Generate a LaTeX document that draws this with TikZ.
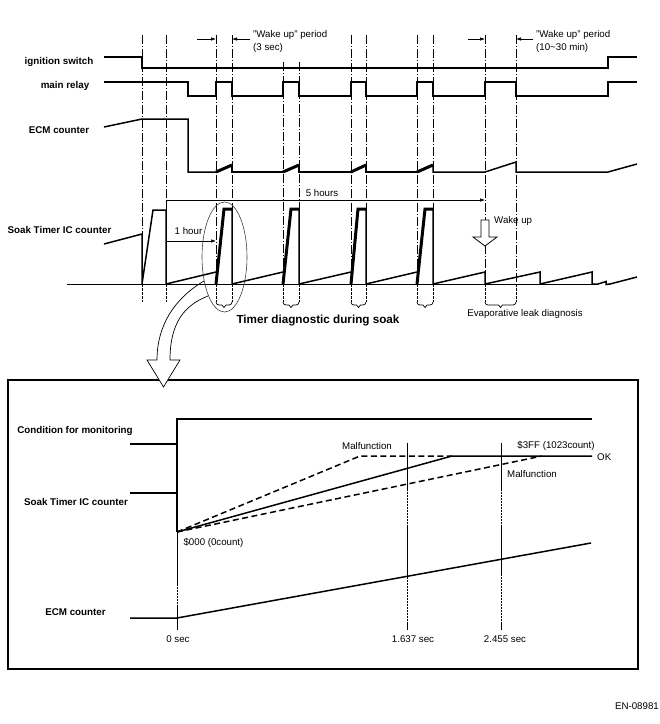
\documentclass[tikz,border=0pt]{standalone}
\usepackage{fontspec}
\setmainfont{Liberation Sans}
\usetikzlibrary{arrows.meta}
\begin{document}
\begin{tikzpicture}[x=1pt,y=-1pt,
  lbl/.style={font=\fontsize{9.8}{11}\selectfont\bfseries, inner sep=0pt},
  txt/.style={font=\fontsize{9.7}{11}\selectfont, inner sep=0pt},
  ign/.style={line width=2.2pt},
  wave/.style={line width=1.5pt},
  thk/.style={line width=3pt},
  dd/.style={line width=0.7pt, dash pattern=on 9pt off 2pt on 1pt off 2pt},
  dsh/.style={line width=0.7pt, dash pattern=on 2.5pt off 1.5pt},
  dsh2/.style={line width=1.5pt, dash pattern=on 6pt off 3.5pt},
  thinl/.style={line width=0.7pt},
  dotl/.style={line width=0.7pt, dash pattern=on 0.6pt off 0.9pt},
  arr/.style={line width=0.6pt, -{Latex[length=5pt,width=3.5pt]}},
  ]
\useasboundingbox[fill=white] (0,0) rectangle (660,724);

% ---------- lower box ----------
\draw[line width=1.1pt] (8,380) rectangle (638,669);

% ---------- curved hollow arrow ----------
\draw[line width=0.7pt, fill=white, line join=miter]
  (204,281) .. controls (175,298) and (157,325) .. (157,360)
  -- (147,360) -- (163.5,387) -- (180,360) -- (170,360)
  .. controls (170,322) and (185,305) .. (208,296);

% ---------- vertical dash-dot lines ----------
\foreach \x/\t in {142/35,166/35,216/35,232/35,283/62,299/62,351/35,366/35,417/35,433/35,485/35,516/35}{
  \draw[dd] (\x,\t) -- (\x,284);
  \draw[dsh] (\x,284) -- (\x,302);
}
% braces
\foreach \a/\b in {216/232,283/299,351/366,417/433,485/516}{
  \pgfmathsetmacro{\m}{(\a+\b)/2}
  \pgfmathsetmacro{\aa}{\a+3}
  \pgfmathsetmacro{\bb}{\b-3}
  \pgfmathsetmacro{\ml}{\m-2}
  \pgfmathsetmacro{\mr}{\m+2}
  \draw[thinl] (\a,302) to[out=-90,in=180] (\aa,305) -- (\ml,305) -- (\m,307.5) -- (\mr,305) -- (\bb,305) to[out=0,in=-90] (\b,302);
}

% ---------- ignition switch ----------
\node[lbl] (lign) at (59,62) {ignition switch};
\draw[ign] (104,57) -- (142,57) -- (142,68) -- (608,68) -- (608,57) -- (637,57);

% ---------- main relay ----------
\node[lbl] (lrel) at (65,86) {main relay};
\draw[wave] (104,82) -- (188,82) -- (188,96) -- (216,96) -- (216,82) -- (232,82) -- (232,96)
  -- (283,96) -- (283,82) -- (299,82) -- (299,96) -- (351,96) -- (351,82) -- (366,82) -- (366,96)
  -- (417,96) -- (417,82) -- (433,82) -- (433,96) -- (485,96) -- (485,82) -- (516,82) -- (516,96)
  -- (608,96) -- (608,82) -- (637,82);

% ---------- ECM counter ----------
\node[lbl] (lecm) at (59,130) {ECM counter};
\draw[wave] (104,127) -- (142,119) -- (188,119) -- (188,172) -- (216,172);
\draw[thk] (216,172) -- (232,165);
\draw[wave] (232,165) -- (232,172) -- (283,172);
\draw[thk] (283,172) -- (299,165);
\draw[wave] (299,165) -- (299,172) -- (351,172);
\draw[thk] (351,172) -- (366,165);
\draw[wave] (366,165) -- (366,172) -- (417,172);
\draw[thk] (417,172) -- (433,165);
\draw[wave] (433,165) -- (433,172) -- (485,172) -- (516,162) -- (516,172) -- (608,172) -- (637,164);

% ---------- wake up periods ----------
\draw[arr] (197,39) -- (216,39);
\draw[arr] (250,39) -- (232,39);
\node[txt, anchor=west] (wk1a) at (253,35) {"Wake up" period};
\node[txt, anchor=west] (wk1b) at (253,48) {(3 sec)};
\draw[arr] (468,39) -- (485,39);
\draw[arr] (533,39) -- (516,39);
\node[txt, anchor=west] (wk2a) at (536,35) {"Wake up" period};
\node[txt, anchor=west] (wk2b) at (536,48) {(10\textasciitilde 30 min)};

% ---------- 5 hours / 1 hour ----------
\draw[thinl] (166,200) -- (166,284);
\draw[arr] (166,200) -- (485,200);
\node[txt] (h5) at (322,193) {5 hours};
\draw[arr] (166,241) -- (216,241);
\node[txt] (h1) at (188.5,231) {1 hour};

% ---------- Soak timer IC counter ----------
\node[lbl] (lsoak) at (59.5,230) {Soak Timer IC counter};
\draw[line width=1pt] (67,284) -- (598,284);
\draw[wave] (104,244) -- (142,234) -- (142,284) -- (153,210) -- (166,210) -- (166,284) -- (216,272);
\draw[thk] (216,284) -- (224,209) -- (232,209);
\draw[wave] (232,209) -- (232,284) -- (283,272);
\draw[thk] (283,284) -- (291,209) -- (299,209);
\draw[wave] (299,209) -- (299,284) -- (351,272);
\draw[thk] (351,284) -- (358,209) -- (366,209);
\draw[wave] (366,209) -- (366,284) -- (417,272);
\draw[thk] (417,284) -- (425,209) -- (433,209);
\draw[wave] (433,209) -- (433,284) -- (485,272) -- (485,284) -- (540,272) -- (540,284) -- (592,272)
  -- (592,284) -- (598,284) -- (606,281.5) -- (606,284.5) -- (610,284) -- (637,277);

% wake up hollow arrow
\draw[line width=0.8pt, fill=white] (481,220) -- (489,220) -- (489,237) -- (497,237) -- (485,246)
  -- (473,237) -- (481,237) -- cycle;
\node[txt, anchor=west] (wku) at (494,221) {Wake up};

% ellipse
\draw[gray!50!black, line width=0.6pt] (224.5,257) ellipse [x radius=22.5pt, y radius=55pt];

\node[font=\fontsize{11.7}{13}\selectfont\bfseries, inner sep=0pt] (tds) at (318,320) {Timer diagnostic during soak};
\node[txt] (evap) at (525,314) {Evaporative leak diagnosis};

% ---------- lower box contents ----------
\node[lbl] (lcond) at (75,431) {Condition for monitoring};
\draw[wave] (130,444) -- (177,444) -- (177,419) -- (592,419);
\node[lbl] (lsoak2) at (76,502) {Soak Timer IC counter};
\draw[wave] (130,493) -- (177,493) -- (177,532);
\draw[wave] (177,444) -- (177,493);

% time markers
\draw[thinl] (177,532) -- (177,585);
\draw[dotl] (177,585) -- (177,607);
\draw[thinl] (177,607) -- (177,630);
\foreach \x in {407,501}{
  \draw[thinl] (\x,443) -- (\x,490);
  \draw[dotl] (\x,490) -- (\x,527);
  \draw[thinl] (\x,527) -- (\x,575);
  \draw[dotl] (\x,575) -- (\x,622);
  \draw[thinl] (\x,622) -- (\x,630);
}

\draw[wave] (177,532) -- (452,456) -- (592,456);
\draw[dsh2] (177,532) -- (360,456) -- (452,456);
\draw[dsh2] (177,532) -- (542,456);

\node[txt] (zero) at (213.5,543) {\$000 (0count)};
\node[txt] (mal1) at (367,446) {Malfunction};
\node[txt] (ff) at (556,446) {\$3FF (1023count)};
\node[txt] (mal2) at (532,474) {Malfunction};
\node[txt, anchor=west] (ok) at (597,457) {OK};

\node[lbl] (lecm2) at (75.5,612) {ECM counter};
\draw[wave] (130,618) -- (177,618) -- (591,543);

\node[txt] (t0) at (178,639) {0 sec};
\node[txt] (t1) at (413,639) {1.637 sec};
\node[txt] (t2) at (505,639) {2.455 sec};

\node[txt, anchor=east] (en) at (659,706) {EN-08981};
\end{tikzpicture}
\end{document}
